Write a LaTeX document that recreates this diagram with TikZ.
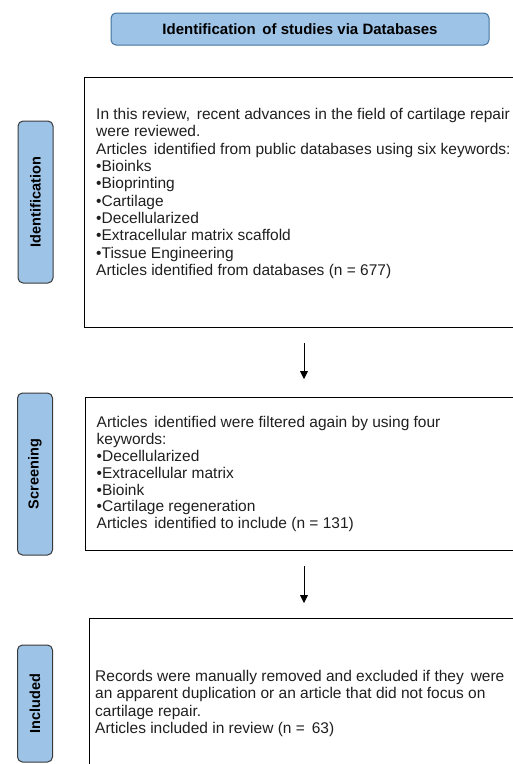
\documentclass[tikz,border=0pt]{standalone}
\usepackage{fontspec}
\setmainfont{Liberation Sans}
\usetikzlibrary{arrows.meta}
\definecolor{tabfill}{HTML}{9DC3E6}
\definecolor{titleedge}{HTML}{41719C}
\definecolor{tabedge}{HTML}{3A3A3A}
\tikzset{
  titlebox/.style={draw=titleedge, line width=1pt, fill=tabfill, rounded corners=5pt,
    minimum width=378pt, minimum height=32pt, inner sep=0pt,
    font=\fontsize{15}{17}\selectfont\bfseries},
  tabbox/.style={draw=tabedge, line width=1pt, fill=tabfill, rounded corners=5pt,
    minimum width=35pt, inner sep=0pt},
  tablabel/.style={rotate=90, font=\fontsize{14.5}{17}\selectfont\bfseries, inner sep=0pt},
  stagebox/.style={draw=black, line width=0.9pt, anchor=north west, inner sep=0pt},
  stagetext/.style={anchor=north west, align=left, inner sep=0pt,
    font=\fontsize{15.5}{17.3}\selectfont, text=black!88},
  arr/.style={-{Triangle[length=8pt,width=8pt]}, line width=0.9pt}
}
\begin{document}
\begin{tikzpicture}[x=1pt,y=1pt]
  \useasboundingbox (0,0) rectangle (513,-764);
  \clip (0,0) rectangle (513,-764);

  % heading
  \node[titlebox] (title) at (300,-29) {Identification\, of studies via Databases};

  % phase tabs on the left
  \node[tabbox, minimum height=162pt] (tabid) at (35.5,-202) {};
  \node[tablabel] (tabidtxt) at (tabid.center) {Identification};
  \node[tabbox, minimum height=162pt] (tabsc) at (35,-474) {};
  \node[tablabel] (tabsctxt) at (tabsc.center) {Screening};
  \node[tabbox, minimum height=117pt] (tabin) at (35,-703.5) {};
  \node[tablabel] (tabintxt) at (tabin.center) {Included};

  % stage boxes (their right edges run past the page)
  \node[stagebox, minimum width=460pt, minimum height=250pt] (box1) at (84,-77) {};
  \node[stagebox, minimum width=460pt, minimum height=153pt] (box2) at (85,-397) {};
  \node[stagebox, minimum width=460pt, minimum height=170pt] (box3) at (89,-618) {};

  \node[stagetext] (txt1) at (96,-108.2) {In this review,\, recent advances in the field of cartilage repair\\
    were reviewed.\\
    Articles\, identified from public databases using six keywords:\\
    {\textbullet}Bioinks\\
    {\textbullet}Bioprinting\\
    {\textbullet}Cartilage\\
    {\textbullet}Decellularized\\
    {\textbullet}Extracellular matrix scaffold\\
    {\textbullet}Tissue Engineering\\
    Articles identified from databases (n = 677)};

  \node[stagetext, font=\fontsize{15.5}{16.9}\selectfont] (txt2) at (96.5,-416) {Articles\, identified were filtered again by using four\\
    keywords:\\
    {\textbullet}Decellularized\\
    {\textbullet}Extracellular matrix\\
    {\textbullet}Bioink\\
    {\textbullet}Cartilage regeneration\\
    Articles\, identified to include (n = 131)};

  \node[stagetext] (txt3) at (95,-670.2) {Records were manually removed and excluded if they\, were\\
    an apparent duplication or an article that did not focus on\\
    cartilage repair.\\
    Articles included in review (n =\, 63)};

  % flow arrows between stages
  \coordinate (a1s) at (304,-343);
  \coordinate (a1e) at (304,-379);
  \coordinate (a2s) at (304,-566);
  \coordinate (a2e) at (304,-603);
  \draw[arr] (a1s) -- (a1e);
  \draw[arr] (a2s) -- (a2e);
\end{tikzpicture}
\end{document}
